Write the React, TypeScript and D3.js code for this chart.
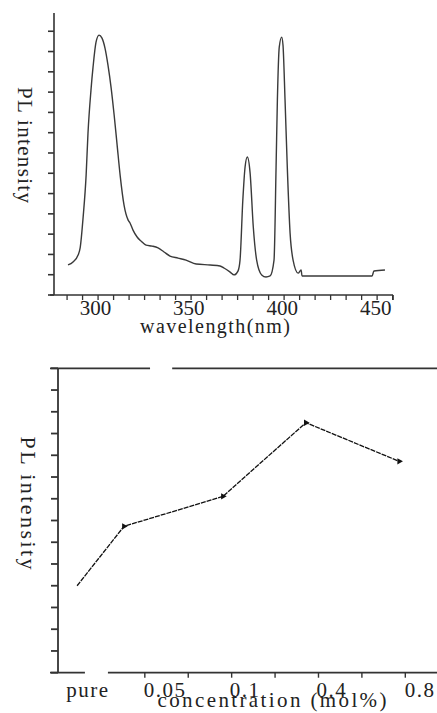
import * as d3 from 'd3'

// top panel: PL emission spectrum
const specWavelength = [
  285.3, 288.0, 290.7, 291.8, 293.4, 295.0, 296.0, 297.6, 298.7, 300.3, 301.9, 303.5, 305.1, 306.7,
  308.4, 310.0, 311.6, 313.2, 315.3, 317.5, 318.5, 320.1, 322.3, 324.4, 327.1, 330.3, 333.5, 336.7,
  339.9, 344.2, 348.5, 353.9, 361.4, 366.7, 368.8, 372.1, 374.2, 376.3, 377.4, 378.9, 380.1, 381.3,
  382.8, 384.5, 386.3, 389.0, 391.3, 393.5, 395.6, 396.7, 397.4, 398.4, 399.7, 400.4, 401.5, 402.7,
  404.2, 405.8, 408.5, 410.1, 410.6, 448.1, 449.1, 455.0,
]
const specIntensity = [
  1.48, 1.63, 1.97, 2.32, 3.84, 5.91, 7.98, 10.1, 11.23, 12.46, 12.81, 12.66, 12.17, 11.33,
  10.2, 8.87, 7.39, 5.91, 4.43, 3.69, 3.55, 3.2, 2.86, 2.66, 2.46, 2.41, 2.32, 2.12,
  1.92, 1.82, 1.72, 1.53, 1.48, 1.43, 1.33, 1.13, 0.99, 1.18, 1.72, 4.68, 6.31, 6.8,
  6.01, 3.35, 1.72, 0.99, 0.89, 0.94, 1.72, 6.31, 9.61, 12.22, 12.71, 12.32, 9.61, 6.31,
  3.05, 1.72, 1.08, 1.23, 0.94, 0.94, 1.18, 1.23,
]
const specTicks = [300, 350, 400, 450]

// bottom panel: PL intensity vs concentration
const concLabels = ['pure', '0.05', '0.1', '0.4', '0.8']
const concLabelPos = [0.69, 2.47, 4.31, 6.31, 8.34]
const concPointPos = [0.44, 1.52, 3.8, 5.71, 7.86]
const concIntensity = [4.0, 6.73, 8.11, 11.5, 9.72]
const concTicks = [2, 3, 4, 5, 6, 7, 8]
const topGap = [2.12, 2.63]
const bottomGap = [0.62, 1.15]

const serif = { fontFamily: 'Liberation Serif, Times New Roman, serif' }
const ink = '#222'

const App = () => {
  // top scales
  const x1 = d3.scaleLinear().domain([277.8, 459.3]).range([54, 393])
  const y1 = d3.scaleLinear().domain([0, 13.9]).range([295, 13])
  const minor1 = d3.range(284.8, 460, 8.3)
  const specData = specWavelength.map((w, i) => [w, specIntensity[i]] as [number, number])
  const specLine = d3
    .line<[number, number]>()
    .x((d) => x1(d[0]))
    .y((d) => y1(d[1]))
    .curve(d3.curveMonotoneX)

  // bottom scales
  const x2 = d3.scaleLinear().domain([0, 8.73]).range([58, 437])
  const y2 = d3.scaleLinear().domain([0, 14]).range([672.7, 368.3])
  const concData = concPointPos.map((p, i) => [p, concIntensity[i]] as [number, number])
  const concLine = d3
    .line<[number, number]>()
    .x((d) => x2(d[0]))
    .y((d) => y2(d[1]))
  const tri = d3.symbol(d3.symbolTriangle, 18)()

  return (
    <svg
      width={437}
      height={713}
      style={{ position: 'absolute', left: 0, top: 0, background: '#fff' }}
    >
      {/* ---------- top chart ---------- */}
      <g stroke="#333" strokeWidth={1.6}>
        <line x1={x1.range()[0]} x2={x1.range()[0]} y1={y1(0)} y2={y1(13.9)} />
        <line x1={x1.range()[0] - 4} x2={x1.range()[1]} y1={y1(0)} y2={y1(0)} />
        {d3.range(0, 14).map((t) => (
          <line key={t} x1={x1.range()[0] - 6} x2={x1.range()[0]} y1={y1(t)} y2={y1(t)} />
        ))}
        {minor1.map((t) => (
          <line key={t} x1={x1(t)} x2={x1(t)} y1={y1(0)} y2={y1(0) + 5} strokeWidth={1.3} />
        ))}
        <line x1={x1.range()[1]} x2={x1.range()[1]} y1={y1(0)} y2={y1(0) + 5} />
      </g>
      <path d={specLine(specData) ?? ''} fill="none" stroke="#3a3a3a" strokeWidth={1.4} />
      {specTicks.map((t) => (
        <text key={t} x={x1(t)} y={315} textAnchor="middle" fontSize={21} fill={ink} style={serif}>
          {t}
        </text>
      ))}
      <text
        x={215}
        y={333}
        textAnchor="middle"
        fontSize={20}
        textLength={150}
        lengthAdjust="spacing"
        fill={ink}
        style={serif}
      >
        wavelength(nm)
      </text>
      <text
        transform="translate(18,145) rotate(90)"
        textAnchor="middle"
        fontSize={21}
        textLength={116}
        lengthAdjust="spacing"
        fill={ink}
        style={serif}
      >
        PL intensity
      </text>

      {/* ---------- bottom chart ---------- */}
      <g stroke="#333" strokeWidth={1.8}>
        <line x1={x2(0)} x2={x2(0)} y1={y2(0)} y2={y2(14)} />
        <line x1={x2(0) - 8} x2={x2(topGap[0])} y1={y2(14)} y2={y2(14)} />
        <line x1={x2(topGap[1])} x2={x2.range()[1]} y1={y2(14)} y2={y2(14)} />
        <line x1={x2(0) - 8} x2={x2(bottomGap[0])} y1={y2(0)} y2={y2(0)} />
        <line x1={x2(bottomGap[1])} x2={x2.range()[1]} y1={y2(0)} y2={y2(0)} />
        {d3.range(0, 15).map((t) => (
          <line key={t} x1={x2(0) - 7} x2={x2(0)} y1={y2(t)} y2={y2(t)} />
        ))}
        {concTicks.map((t) => (
          <line key={t} x1={x2(t)} x2={x2(t)} y1={y2(0)} y2={y2(0) + 5} strokeWidth={1.4} />
        ))}
      </g>
      <path
        d={concLine(concData) ?? ''}
        fill="none"
        stroke="#111"
        strokeWidth={1.3}
        strokeDasharray="5 1"
      />
      {concData.slice(1).map((d, i) => (
        <path
          key={i}
          d={tri ?? ''}
          transform={`translate(${x2(d[0])},${y2(d[1])}) rotate(-30)`}
          fill="#111"
        />
      ))}
      {concLabels.map((l, i) => (
        <text
          key={l}
          x={x2(concLabelPos[i])}
          y={697}
          textAnchor="middle"
          fontSize={21}
          letterSpacing={1.5}
          fill={ink}
          style={serif}
        >
          {l}
        </text>
      ))}
      <text
        x={272}
        y={707}
        textAnchor="middle"
        fontSize={21}
        textLength={229}
        lengthAdjust="spacing"
        fill={ink}
        style={serif}
      >
        concentration (mol%)
      </text>
      <text
        transform="translate(21,503) rotate(90)"
        textAnchor="middle"
        fontSize={22}
        textLength={133}
        lengthAdjust="spacing"
        fill={ink}
        style={serif}
      >
        PL intensity
      </text>
    </svg>
  )
}

export default App
